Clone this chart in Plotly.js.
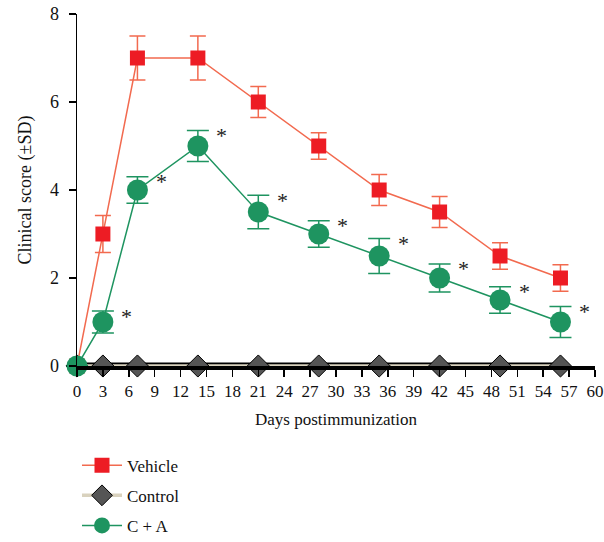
<!DOCTYPE html>
<html>
<head>
<meta charset="utf-8">
<script src="https://cdn.plot.ly/plotly-3.0.1.min.js"></script>
<style>html,body{margin:0;padding:0;background:#fff;}#chart{width:604px;height:542px;}</style>
</head>
<body>
<div id="chart"></div>
<script>
const days = [0, 3, 7, 14, 21, 28, 35, 42, 49, 56];
const vehicle = [0, 3, 7, 7, 6, 5, 4, 3.5, 2.5, 2];
const vehicleSD = [0, 0.42, 0.5, 0.5, 0.35, 0.3, 0.35, 0.35, 0.3, 0.3];
const control = [0, 0, 0, 0, 0, 0, 0, 0, 0, 0];
const cA = [0, 1, 4, 5, 3.5, 3, 2.5, 2, 1.5, 1];
const cASD = [0, 0.25, 0.3, 0.35, 0.38, 0.3, 0.4, 0.32, 0.3, 0.35];
const sigFlags = [false, true, true, true, true, true, true, true, true, true];
const xTicks = [0,3,6,9,12,15,18,21,24,27,30,33,36,39,42,45,48,51,54,57,60];
const yTicks = [0,2,4,6,8];

const FONT = "Liberation Serif";
const RED = "#ED1C24", SALMON = "#F26A4F", GREEN = "#1E9460", DGRAY = "#555555", BEIGE = "#D9D2BE";

const traces = [
  {
    x: days, y: control, mode: "lines", showlegend: false, hoverinfo: "skip",
    line: {color: "#000", width: 7}, cliponaxis: false
  },
  {
    x: days, y: vehicle, name: "Vehicle", mode: "lines+markers", legendgroup: "v",
    line: {color: SALMON, width: 1.5},
    marker: {symbol: "square", size: 15, color: RED},
    error_y: {type: "data", array: vehicleSD, visible: true, color: SALMON, thickness: 1.5, width: 8},
    cliponaxis: false
  },
  {
    x: days, y: control, name: "Control", mode: "lines+markers", legendgroup: "c",
    line: {color: BEIGE, width: 3.5},
    marker: {symbol: "diamond", size: 17, color: DGRAY, line: {color: "#000", width: 1}},
    cliponaxis: false
  },
  {
    x: days, y: cA, name: "C + A", mode: "lines+markers", legendgroup: "g",
    line: {color: GREEN, width: 1.5},
    marker: {symbol: "circle", size: 21, color: GREEN},
    error_y: {type: "data", array: cASD, visible: true, color: GREEN, thickness: 1.5, width: 11},
    cliponaxis: false
  }
];

const annotations = [];
days.forEach((d, i) => {
  if (sigFlags[i]) {
    annotations.push({
      x: d, y: cA[i] + cASD[i], xref: "x", yref: "y", text: "*", showarrow: false,
      xshift: 24, yshift: -5, font: {family: FONT, size: 22, color: "#222"}
    });
  }
});

const layout = {
  width: 604, height: 542,
  margin: {l: 77, r: 9, t: 14, b: 176, autoexpand: false},
  paper_bgcolor: "#fff", plot_bgcolor: "#fff",
  font: {family: FONT, size: 17, color: "#111"},
  showlegend: true,
  legend: {
    x: 0.0, xanchor: "left", y: -0.232, yanchor: "top",
    traceorder: "grouped", tracegroupgap: 5, itemwidth: 40,
    font: {family: FONT, size: 17, color: "#111"}, bgcolor: "rgba(0,0,0,0)"
  },
  xaxis: {
    range: [0, 60], tickmode: "array", tickvals: xTicks, ticktext: xTicks.map(String),
    showgrid: false, zeroline: false, showline: true, linecolor: "#000", linewidth: 4,
    ticks: "outside", ticklen: 7, tickwidth: 1.5, tickcolor: "#000",
    tickfont: {family: FONT, size: 17, color: "#111"},
    title: {text: "Days postimmunization", font: {family: FONT, size: 17, color: "#111"}, standoff: 14}
  },
  yaxis: {
    range: [0, 8], tickmode: "array", tickvals: yTicks, ticktext: yTicks.map(String),
    showgrid: false, zeroline: false, showline: true, linecolor: "#000", linewidth: 1.5,
    ticks: "outside", ticklen: 7, tickwidth: 1.5, tickcolor: "#000", ticklabelstandoff: 6,
    tickfont: {family: FONT, size: 18, color: "#111"},
    title: {text: "Clinical score (±SD)", font: {family: FONT, size: 18, color: "#111"}}
  },
  annotations: annotations
};

Plotly.newPlot("chart", traces, layout, {displayModeBar: false, staticPlot: true});
</script>
</body>
</html>
